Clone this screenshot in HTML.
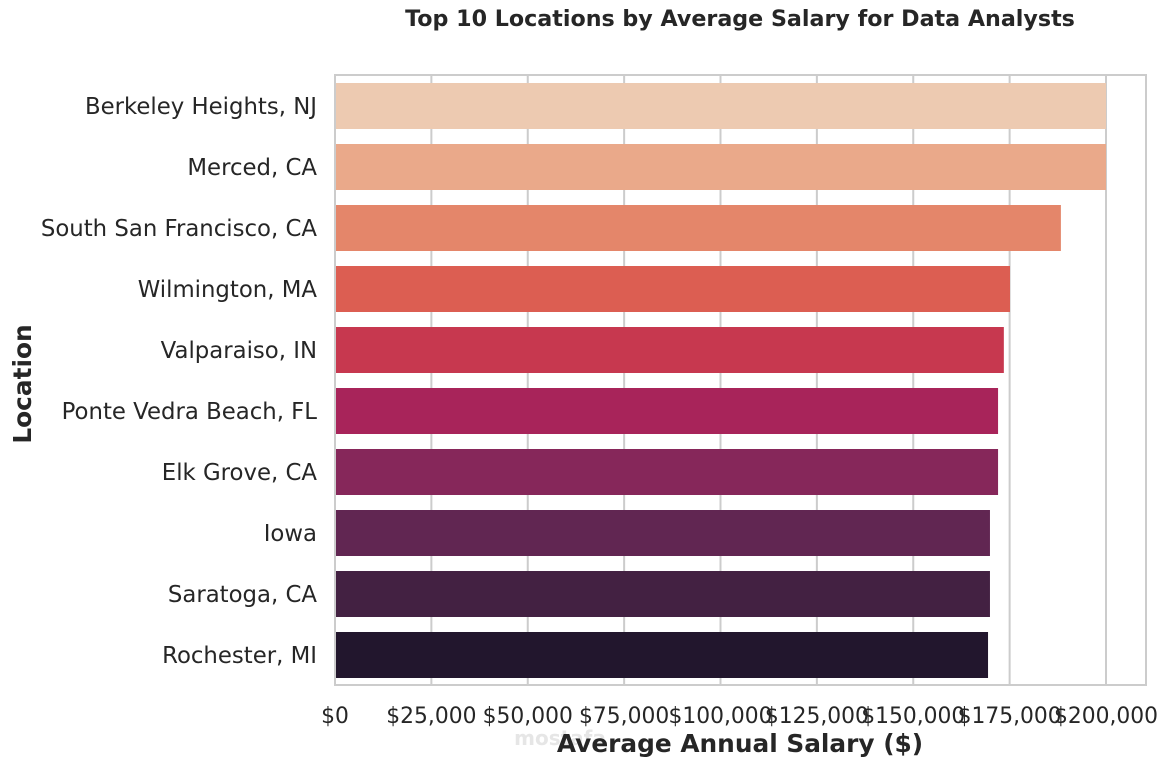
<!DOCTYPE html>
<html><head><meta charset="utf-8"><style>
body{margin:0;background:#fff;font-family:"DejaVu Sans","Liberation Sans",sans-serif;}
svg text{font-family:"DejaVu Sans","Liberation Sans",sans-serif;fill:#262626;}
</style></head><body>
<svg width="1171" height="765" xmlns="http://www.w3.org/2000/svg">
<text x="740" y="26" text-anchor="middle" font-size="22.2" font-weight="bold">Top 10 Locations by Average Salary for Data Analysts</text>
<g id="grid"></g>
<g id="bars"></g>
<rect x="335" y="75" width="811" height="610" fill="none" stroke="#cccccc" stroke-width="2"/>
<g id="labels"></g>
<text x="560" y="745" text-anchor="middle" font-size="20" font-weight="bold" style="fill:#e6e6e6">mostafa</text>
<text x="740" y="752" text-anchor="middle" font-size="24.8" font-weight="bold">Average Annual Salary ($)</text>
<text transform="translate(31,384) rotate(-90)" text-anchor="middle" font-size="24.8" font-weight="bold">Location</text>
</svg>
<script>
const categories=["Berkeley Heights, NJ","Merced, CA","South San Francisco, CA","Wilmington, MA","Valparaiso, IN","Ponte Vedra Beach, FL","Elk Grove, CA","Iowa","Saratoga, CA","Rochester, MI"];
const salaries=[200000,200000,188300,175100,173500,172000,172000,169900,169900,169400];
const tickValues=[0,25000,50000,75000,100000,125000,150000,175000,200000];
const tickLabels=["$0","$25,000","$50,000","$75,000","$100,000","$125,000","$150,000","$175,000","$200,000"];
const colors=["#EDCAB1","#EAA98A","#E4866A","#DC5E52","#C7384F","#A8245A","#86275A","#612652","#432142","#22162D"];
const NS="http://www.w3.org/2000/svg";
const x=v=>335+v*(771/200000);
const yc=i=>106+i*61;
const grid=document.getElementById('grid'),bars=document.getElementById('bars'),labels=document.getElementById('labels');
function mk(tag,attrs,parent){const e=document.createElementNS(NS,tag);for(const k in attrs)e.setAttribute(k,attrs[k]);parent.appendChild(e);return e;}
tickValues.forEach((v,i)=>{
 const l=mk('line',{x1:x(v),x2:x(v),y1:75,y2:685,stroke:'#cccccc','stroke-width':2},grid);
 
 
 const t=mk('text',{x:x(v),y:723,'text-anchor':'middle','font-size':21.8},labels);
 t.textContent=tickLabels[i];
 
 
});
categories.forEach((c,i)=>{
 const r=mk('rect',{x:335,y:yc(i)-23,width:x(salaries[i])-335,height:46,fill:colors[i]},bars);
 
 
 const t=mk('text',{x:317,y:yc(i)+8,'text-anchor':'end','font-size':22.8},labels);
 t.textContent=c;
 
 
});
</script>
</body></html>
